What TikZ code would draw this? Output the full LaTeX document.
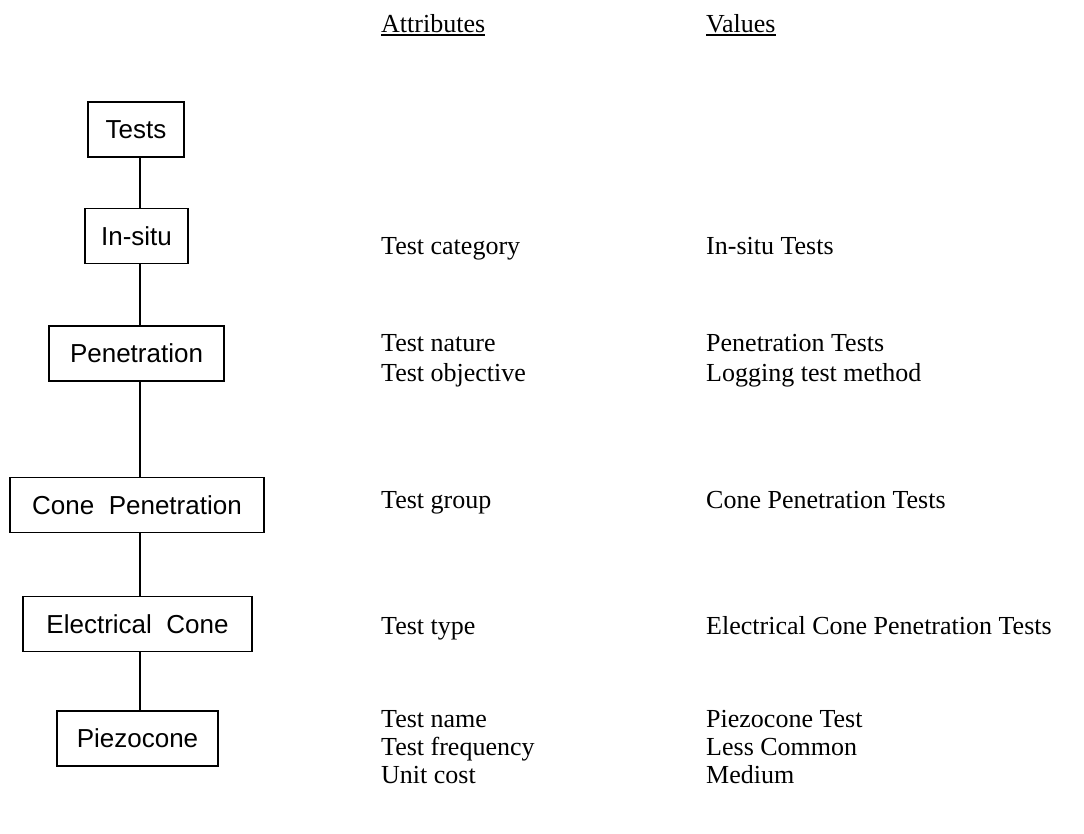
\documentclass[tikz,border=0pt]{standalone}
\usepackage{fontspec}
\setmainfont{Liberation Serif}
\newfontfamily\boxfont{Liberation Sans}
\newcommand\hdrline[1]{\setbox0\hbox{#1}\rlap{\rule[-3pt]{\wd0}{1.8pt}}\box0}
\begin{document}
\begin{tikzpicture}[x=1pt,y=-1pt,
  level/.style={draw, line width=1.8pt, font=\boxfont\fontsize{26}{30}\selectfont,
    inner sep=0pt, minimum height=55pt},
  link/.style={line width=1.3pt},
  attr/.style={anchor=base west, inner sep=0pt, font=\fontsize{26}{30}\selectfont},
  hdr/.style={anchor=base west, inner sep=0pt, font=\fontsize{26}{30}\selectfont}]
\useasboundingbox (0,0) rectangle (1084,834);

% hierarchy of test classes
\node[level, minimum width=96pt]  (tests) at (136,129.5) {Tests};
\node[level, minimum width=103pt] (insitu) at (136.5,236) {In-situ};
\node[level, minimum width=175pt] (pen) at (136.5,353.5) {Penetration};
\node[level, minimum width=254pt] (cone) at (137,505) {Cone~~Penetration};
\node[level, minimum width=229pt] (elec) at (137.5,624) {Electrical~~Cone};
\node[level, minimum width=161pt] (piezo) at (137.5,738.5) {Piezocone};

\coordinate (spine) at (140,0);
\draw[link] (tests.south -| spine) -- (insitu.north -| spine);
\draw[link] (insitu.south -| spine) -- (pen.north -| spine);
\draw[link] (pen.south -| spine) -- (cone.north -| spine);
\draw[link] (cone.south -| spine) -- (elec.north -| spine);
\draw[link] (elec.south -| spine) -- (piezo.north -| spine);

% column headings
\node[hdr] (hattr) at (381,33) {\hdrline{Attributes}};
\node[hdr] (hval) at (706,33) {\hdrline{Values}};

% attributes and their values
\node[attr] (a1) at (381,255) {Test category};
\node[attr] (v1) at (706,255) {In-situ Tests};
\node[attr] (a2) at (381,351) {Test nature};
\node[attr] (v2) at (706,351) {Penetration Tests};
\node[attr] (a3) at (381,381) {Test objective};
\node[attr] (v3) at (706,381) {Logging test method};
\node[attr] (a4) at (381,508) {Test group};
\node[attr] (v4) at (706,508) {Cone Penetration Tests};
\node[attr] (a5) at (381,634) {Test type};
\node[attr] (v5) at (706,634) {Electrical Cone Penetration Tests};
\node[attr] (a6) at (381,727) {Test name};
\node[attr] (v6) at (706,727) {Piezocone Test};
\node[attr] (a7) at (381,755) {Test frequency};
\node[attr] (v7) at (706,755) {Less Common};
\node[attr] (a8) at (381,783) {Unit cost};
\node[attr] (v8) at (706,783) {Medium};
\end{tikzpicture}
\end{document}
